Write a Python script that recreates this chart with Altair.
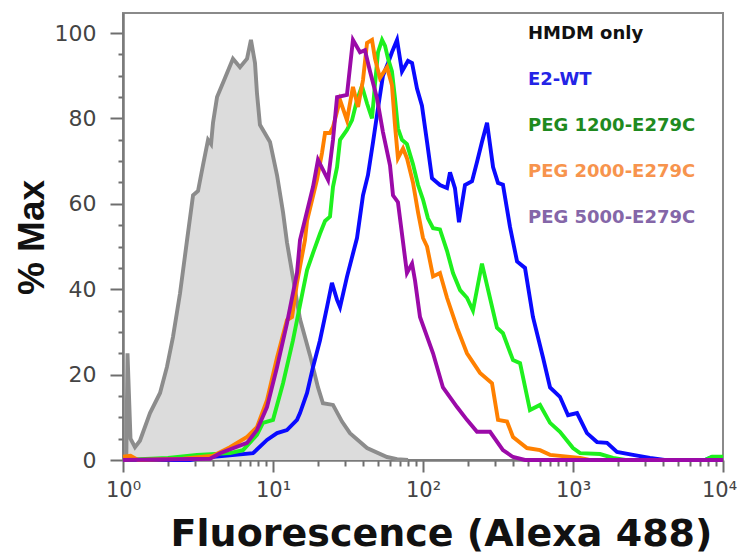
import json
import altair as alt
import pandas as pd

# ---------------- data (x given as log10 of fluorescence, y as % Max) ----------------
series_names = ["HMDM only", "E2-WT", "PEG 1200-E279C", "PEG 2000-E279C", "PEG 5000-E279C"]
line_colors = ["#8c8c8c", "#0a0aff", "#1ef01e", "#ff8000", "#9b0aa8"]
legend_colors = ["#111111", "#2424e6", "#1f8a1f", "#f7944d", "#8466a8"]

hmdm = [(0.0, 0), (0.022, 0.5), (0.03, 25), (0.05, 5), (0.08, 3), (0.113, 4.5), (0.18, 11),
        (0.247, 15.7), (0.293, 21.8), (0.333, 28.8), (0.38, 39), (0.427, 51.5), (0.467, 62),
        (0.5, 63), (0.533, 69), (0.567, 75), (0.587, 74), (0.6, 79), (0.627, 85), (0.68, 89.5),
        (0.733, 94), (0.78, 92), (0.827, 94), (0.853, 98.4), (0.88, 93), (0.893, 86),
        (0.913, 78.5), (0.98, 74.5), (1.027, 66.7), (1.067, 58), (1.093, 51), (1.18, 33),
        (1.247, 24.5), (1.3, 17), (1.333, 13.3), (1.4, 12.9), (1.46, 9), (1.513, 6.3),
        (1.627, 2.8), (1.76, 0.7), (1.827, 0.2), (1.9, 0)]

e2wt = [(0, 0), (0.447, 0), (0.533, 0.5), (0.867, 1.6), (0.96, 4.7), (1.027, 6.3), (1.093, 7),
        (1.16, 9.4), (1.18, 11), (1.227, 15.7), (1.267, 21.8), (1.313, 28), (1.36, 35.8),
        (1.393, 41.5), (1.427, 37.5), (1.447, 35.8), (1.493, 42.9), (1.56, 52), (1.6, 62),
        (1.633, 66.7), (1.667, 74.5), (1.7, 82.4), (1.733, 90), (1.767, 93), (1.793, 95.5),
        (1.827, 98.4), (1.86, 91), (1.9, 93.5), (1.927, 93), (1.96, 87), (1.993, 83),
        (2.027, 74.5), (2.06, 66), (2.113, 64.4), (2.16, 63.7), (2.18, 67.4), (2.213, 63.7),
        (2.24, 55.7), (2.28, 64.4), (2.327, 65.3), (2.36, 69.8), (2.393, 74.5), (2.427, 79),
        (2.467, 68.6), (2.5, 64.9), (2.533, 64.5), (2.58, 54.6), (2.627, 46.5), (2.68, 45),
        (2.733, 33.5), (2.8, 24), (2.847, 17), (2.913, 14.8), (2.967, 10.5), (3.027, 11),
        (3.093, 6.3), (3.16, 4.2), (3.227, 4), (3.293, 1.9), (3.4, 1.2), (3.513, 0.5),
        (3.61, 0), (3.88, 0), (3.927, 0.7), (4.0, 0.7)]

peg1200 = [(0, 0), (0.3, 0.5), (0.493, 1.2), (0.713, 1.6), (0.8, 2.3), (0.893, 5.9), (0.933, 8.7),
           (1.0, 9.4), (1.067, 18), (1.133, 28), (1.2, 39.8), (1.227, 44.5), (1.267, 48.5),
           (1.313, 53), (1.347, 56), (1.38, 57), (1.4, 64), (1.427, 68.6), (1.447, 75),
           (1.493, 77.3), (1.527, 79.6), (1.56, 84.3), (1.593, 87.6), (1.627, 83.5), (1.66, 80),
           (1.68, 88), (1.7, 95.5), (1.727, 98.4), (1.747, 97), (1.767, 94), (1.793, 91),
           (1.813, 84.8), (1.833, 77.7), (1.86, 75), (1.893, 74), (1.933, 69.3), (1.967, 64.4),
           (2.0, 61), (2.033, 56.6), (2.067, 54.3), (2.113, 54), (2.16, 49), (2.2, 43.8),
           (2.247, 39.8), (2.293, 38), (2.333, 35), (2.393, 46), (2.433, 40), (2.493, 31),
           (2.533, 29.7), (2.6, 23.4), (2.647, 22.7), (2.713, 11.7), (2.78, 12.9), (2.847, 8.7),
           (2.913, 6.6), (3.0, 2.8), (3.047, 1.6), (3.18, 1.4), (3.267, 0.5), (3.35, 0),
           (3.88, 0), (3.927, 0.8), (4.0, 0.8)]

peg2000 = [(0, 0.8), (0.05, 1), (0.1, 0), (0.4, 0.3), (0.6, 1), (0.713, 3), (0.827, 5.4),
           (0.893, 7.7), (0.96, 14), (1.027, 24), (1.093, 32.8), (1.127, 33.5), (1.16, 41.5),
           (1.213, 51.5), (1.227, 56), (1.293, 65.6), (1.327, 72), (1.347, 76.6), (1.38, 76.6),
           (1.4, 78), (1.447, 84.3), (1.493, 79.6), (1.533, 87.4), (1.567, 82.7), (1.6, 89),
           (1.627, 97.7), (1.66, 98.4), (1.68, 94), (1.713, 89.5), (1.76, 92), (1.793, 87.8),
           (1.813, 78.5), (1.833, 70.7), (1.867, 73), (1.893, 70.7), (1.933, 65), (1.967, 58),
           (2.0, 52), (2.027, 50), (2.067, 43), (2.113, 43.8), (2.16, 38), (2.227, 31),
           (2.293, 25), (2.38, 20.4), (2.46, 18), (2.5, 9.4), (2.56, 9), (2.6, 5.4),
           (2.693, 2.8), (2.78, 2.3), (2.847, 1.2), (3.047, 0.5), (3.11, 0), (4.0, 0)]

peg5000 = [(0, 0), (0.58, 0.3), (0.647, 1.6), (0.827, 4), (0.893, 7), (0.96, 12.4), (1.027, 21.8),
           (1.093, 32), (1.16, 43.8), (1.18, 51.5), (1.267, 64), (1.3, 70.3), (1.367, 65.6),
           (1.4, 75), (1.427, 85), (1.493, 85.5), (1.533, 98.4), (1.58, 95.5), (1.613, 96),
           (1.647, 91), (1.693, 84.8), (1.733, 76.8), (1.78, 69), (1.8, 62), (1.833, 60.4),
           (1.867, 51), (1.893, 43.8), (1.927, 46), (1.947, 42), (1.98, 33.5), (2.067, 25),
           (2.133, 17), (2.227, 12.4), (2.293, 9.4), (2.36, 6.6), (2.447, 6.6), (2.533, 2.3),
           (2.6, 0.7), (2.68, 0), (4.0, 0)]

x_major = [1, 10, 100, 1000, 10000]
x_minor = [m * d for d in [1, 10, 100, 1000] for m in range(2, 10)]
y_major = [0, 20, 40, 60, 80, 100]
y_minor = [v for v in range(5, 100, 5) if v % 20]
sup = ["⁰", "¹", "²", "³", "⁴"]

# ---------------- table ----------------
rows = []
for name, pts in zip(series_names, [hmdm, e2wt, peg1200, peg2000, peg5000]):
    for lx, p in pts:
        rows.append({"series": name, "x": 10 ** lx, "pct": p})
df = pd.DataFrame(rows)
df_hmdm = df[df["series"] == series_names[0]]

xscale = alt.Scale(type="log", domain=[1, 10000], nice=False)
yscale = alt.Scale(domain=[0, 104.7], nice=False, zero=False)

lab_font = "DejaVu Sans"
axis_common = dict(domainColor="#7a7a7a", domainWidth=2, tickColor="#6e6e6e", tickWidth=2,
                   grid=False)

x_major_axis = alt.Axis(
    orient="bottom", values=x_major, tickSize=12, labelPadding=7,
    labelFont=lab_font, labelFontSize=21, labelColor="#444444",
    labelExpr="'10' + " + json.dumps(sup) + "[round(log(datum.value)/LN10)]",
    labelOffset={"condition": {"test": "datum.value == 10000", "value": -4}, "value": 0},
    labelFlush=False, labelOverlap=False,
    title="Fluorescence (Alexa 488)", titleFont="DejaVu Sans", titleFontSize=38,
    titleFontWeight="bold", titleColor="#111111", titleX=318, titleY=85,
    titleAlign="center", titleBaseline="alphabetic", titleAnchor="start", **axis_common)
x_minor_axis = alt.Axis(orient="bottom", values=x_minor, tickSize=6, labels=False,
                        title=None, **axis_common)
y_major_axis = alt.Axis(
    orient="left", values=y_major, tickSize=13, labelPadding=14,
    labelFont=lab_font, labelFontSize=22, labelColor="#444444",
    title="% Max", titleFont="Liberation Sans", titleFontSize=37, titleFontWeight="bold",
    titleColor="#111111", titleAngle=270, titleX=-80, titleY=224, titleAlign="center",
    titleBaseline="alphabetic", titleAnchor="start", **axis_common)
y_minor_axis = alt.Axis(orient="left", values=y_minor, tickSize=5, labels=False,
                        title=None, **axis_common)

label_color_expr = (json.dumps(legend_colors) + "[indexof(" + json.dumps(series_names)
                    + ", datum.value)]")

legend = alt.Legend(
    orient="none", legendX=387, legendY=12, title=None, symbolSize=0, symbolStrokeWidth=0,
    symbolOpacity=0, labelOffset=0, rowPadding=28, padding=0, labelLimit=400,
    labelFont="DejaVu Sans", labelFontSize=18, labelFontWeight="bold",
    labelColor={"expr": label_color_expr})

area = alt.Chart(df_hmdm).mark_area(color="#dcdcdc").encode(
    x=alt.X("x:Q", scale=xscale, axis=x_major_axis),
    y=alt.Y("pct:Q", scale=yscale, axis=y_major_axis),
)

lines = alt.Chart(df).mark_line(strokeWidth=3.9).encode(
    x=alt.X("x:Q", scale=xscale, axis=x_minor_axis),
    y=alt.Y("pct:Q", scale=yscale, axis=y_minor_axis),
    color=alt.Color("series:N", scale=alt.Scale(domain=series_names, range=line_colors),
                    sort=series_names, legend=legend),
)

chart = alt.layer(area, lines).resolve_axis(x="independent", y="independent").properties(
    width=600, height=447,
    autosize=alt.AutoSizeParams(type="none"),
    padding={"left": 115, "top": 5, "right": 14, "bottom": 97},
).configure_view(stroke="#8a8a8a", strokeWidth=2)

chart.save("out.html", embed_options={"renderer": "svg", "actions": False})
